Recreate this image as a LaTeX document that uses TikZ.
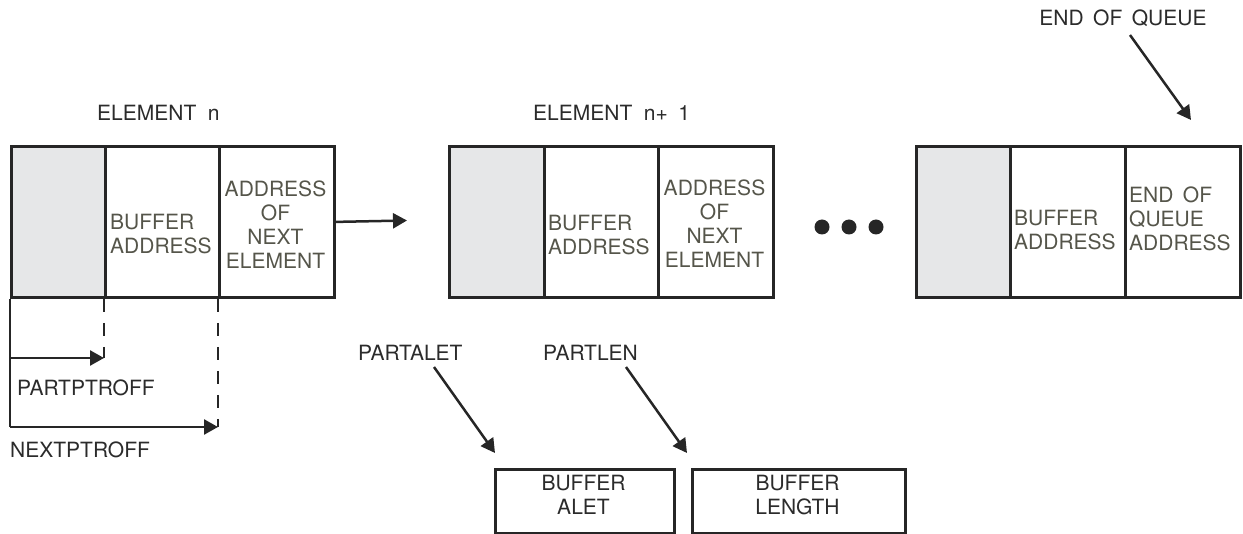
\documentclass[tikz,border=0pt]{standalone}
\usepackage{fontspec}
\setmainfont{TeX Gyre Heros}
\usetikzlibrary{arrows.meta}
\definecolor{linec}{HTML}{262626}
\definecolor{cellgrey}{HTML}{E6E7E8}
\definecolor{celltext}{HTML}{55554A}
\definecolor{labtext}{HTML}{2B2B2B}
\tikzset{
  cellbox/.style={draw=linec, line width=2.8pt, inner sep=0pt, minimum height=151pt, anchor=north west},
  greycell/.style={cellbox, fill=cellgrey},
  celltxt/.style={inner sep=0pt, text=celltext, font=\fontsize{21}{24}\selectfont},
  labtxt/.style={inner sep=0pt, text=labtext, font=\fontsize{21}{24}\selectfont},
  arr/.style={draw=linec, line width=2.5pt, -{Triangle[length=14pt,width=15pt]}},
  plain/.style={draw=linec, line width=2.5pt},
  dashln/.style={draw=linec, line width=2.5pt, dash pattern=on 13pt off 11pt},
  smallbox/.style={draw=linec, line width=2.8pt, inner sep=0pt, minimum height=64pt, anchor=north west},
  dotc/.style={circle, fill=linec, inner sep=0pt, minimum size=15pt}
}
\begin{document}
\begin{tikzpicture}[x=1pt,y=-1pt]
\useasboundingbox (0,0) rectangle (1243,534);
% labels
\node[labtxt, anchor=west] (eln) at (97,113) {ELEMENT\hspace{0.55em}n};
\node[labtxt, anchor=west] (eln1) at (533,113) {ELEMENT\hspace{0.55em}n+\hspace{0.5em}1};
\node[labtxt] (eoq) at (1123,18) {END\hspace{0.45em}OF\hspace{0.45em}QUEUE};
% element n
\node[greycell, minimum width=94pt] (c11) at (10,145) {};
\node[cellbox, minimum width=114pt] (c12) at (104,145) {};
\node[cellbox, minimum width=115pt] (c13) at (218,145) {};
\node[celltxt, anchor=west, align=left] (t12) at (110,234) {BUFFER\\ADDRESS};
\node[celltxt, align=center] (t13) at (275.5,224.5) {ADDRESS\\OF\\NEXT\\ELEMENT};
% element n+1
\node[greycell, minimum width=95pt] (c21) at (448,145) {};
\node[cellbox, minimum width=114pt] (c22) at (543,145) {};
\node[cellbox, minimum width=115pt] (c23) at (657,145) {};
\node[celltxt, anchor=west, align=left] (t22) at (548,235) {BUFFER\\ADDRESS};
\node[celltxt, align=center] (t23) at (714.5,223.5) {ADDRESS\\OF\\NEXT\\ELEMENT};
% last element
\node[greycell, minimum width=94pt] (c31) at (915,145) {};
\node[cellbox, minimum width=115pt] (c32) at (1009,145) {};
\node[cellbox, minimum width=115pt] (c33) at (1124,145) {};
\node[celltxt, anchor=west, align=left] (t32) at (1014,230.5) {BUFFER\\ADDRESS};
\node[celltxt, anchor=west, align=left] (t33) at (1129,218.5) {END\hspace{0.45em}OF\\QUEUE\\ADDRESS};
% dots
\node[dotc] (d1) at (822,227) {};
\node[dotc] (d2) at (849,227) {};
\node[dotc] (d3) at (876,227) {};
% arrow to next element
\coordinate (nx) at (407,220.5);
\draw[arr] (c13.east) -- (nx);
% end of queue arrow
\coordinate (eqs) at (1130,35);
\coordinate (eqe) at (1191,120);
\draw[arr] (eqs) -- (eqe);
% offsets
\coordinate (b0) at (10,358);
\coordinate (b1) at (10,427);
\coordinate (p1) at (104,358);
\coordinate (p2) at (218,427);
\draw[plain] (c11.south west) -- (b1);
\draw[arr] (b0) -- (p1);
\draw[arr] (b1) -- (p2);
\draw[dashln] (c12.south west) -- (p1);
\draw[dashln] (c13.south west) -- (p2);
\node[labtxt, anchor=west] (lpp) at (17,388) {PARTPTROFF};
\node[labtxt, anchor=west] (lnp) at (10,450) {NEXTPTROFF};
% partalet / partlen
\node[labtxt, anchor=west] (lpa) at (358,353) {PARTALET};
\node[labtxt, anchor=west] (lpl) at (543,353) {PARTLEN};
\node[smallbox, minimum width=179pt] (ba) at (494,468) {};
\node[smallbox, minimum width=213pt] (bl) at (691,468) {};
\node[labtxt, align=center] (tba) at (583.5,495) {BUFFER\\ALET};
\node[labtxt, align=center] (tbl) at (797.5,495) {BUFFER\\LENGTH};
\coordinate (pas) at (434,367);
\coordinate (pae) at (495,453);
\coordinate (pls) at (626,367);
\coordinate (ple) at (687,453);
\draw[arr] (pas) -- (pae);
\draw[arr] (pls) -- (ple);
\end{tikzpicture}
\end{document}
